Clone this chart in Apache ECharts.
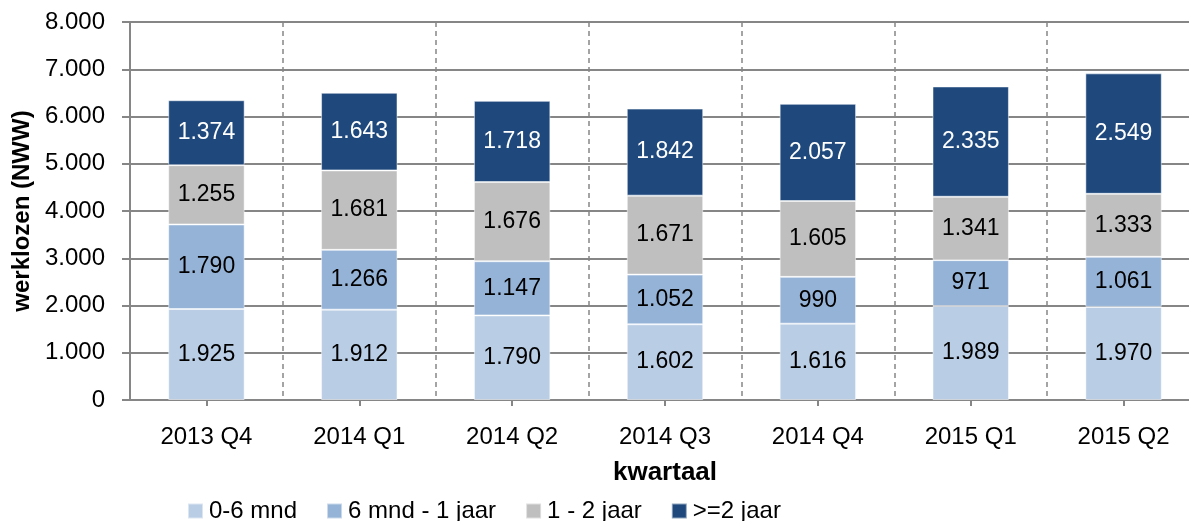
<!DOCTYPE html>
<html>
<head>
<meta charset="utf-8">
<script src="https://cdn.jsdelivr.net/npm/echarts@6/dist/echarts.min.js"></script>
<style>
  html, body { margin: 0; padding: 0; background: #fff; }
  #chart { width: 1189px; height: 521px; }
</style>
</head>
<body>
<div id="chart"></div>
<script>
  // kwartalen
  var categories = ['2013 Q4', '2014 Q1', '2014 Q2', '2014 Q3', '2014 Q4', '2015 Q1', '2015 Q2'];
  var seriesNames = ['0-6 mnd', '6 mnd - 1 jaar', '1 - 2 jaar', '>=2 jaar'];
  var mnd0_6 = [1925, 1912, 1790, 1602, 1616, 1989, 1970];
  var mnd6_jaar1 = [1790, 1266, 1147, 1052, 990, 971, 1061];
  var jaar1_2 = [1255, 1681, 1676, 1671, 1605, 1341, 1333];
  var jaar2plus = [1374, 1643, 1718, 1842, 2057, 2335, 2549];
  var colors = ['#b9cde5', '#95b3d7', '#bfbfbf', '#1f497d'];
  var labelColors = ['#000', '#000', '#000', '#fff'];

  var font = 'Liberation Sans, Arial, sans-serif';

  function fmt(v) {
    return String(v).replace(/\B(?=(\d{3})+(?!\d))/g, '.');
  }

  var chart = echarts.init(document.getElementById('chart'));
  var values = [mnd0_6, mnd6_jaar1, jaar1_2, jaar2plus];

  chart.setOption({
    animation: false,
    textStyle: { fontFamily: font },
    grid: { left: 130, right: -11, top: 22, bottom: 121, containLabel: false, outerBoundsMode: 'none' },
    legend: {
      top: 494,
      left: 182,
      itemGap: 29,
      itemWidth: 15,
      itemHeight: 15,
      icon: 'rect',
      textStyle: { fontSize: 24, color: '#000', fontFamily: font, padding: [0, 0, 0, 1] },
      data: seriesNames
    },
    xAxis: {
      type: 'category',
      data: categories,
      name: 'kwartaal',
      nameLocation: 'middle',
      nameGap: 60,
      nameTextStyle: { fontSize: 26, fontWeight: 'bold', color: '#000', fontFamily: font },
      axisLine: { lineStyle: { color: '#868686', width: 2 } },
      axisTick: { show: true, alignWithLabel: true, length: 6, lineStyle: { color: '#868686', width: 2 } },
      axisLabel: { fontSize: 24, color: '#000', margin: 25 },
      splitLine: { show: true, lineStyle: { color: '#868686', type: [5, 4], width: 1.5 } }
    },
    yAxis: {
      type: 'value',
      min: 0,
      max: 8000,
      interval: 1000,
      name: 'werklozen (NWW)',
      nameLocation: 'middle',
      nameGap: 93,
      nameTextStyle: { fontSize: 24, fontWeight: 'bold', color: '#000', fontFamily: font },
      axisLine: { show: true, lineStyle: { color: '#868686', width: 2 } },
      axisTick: { show: true, length: 8, lineStyle: { color: '#868686', width: 2 } },
      axisLabel: { fontSize: 24, color: '#000', margin: 25, formatter: fmt },
      splitLine: { show: true, lineStyle: { color: '#868686', width: 2 } }
    },
    series: values.map(function (arr, i) {
      return {
        name: seriesNames[i],
        type: 'bar',
        stack: 'totaal',
        barWidth: '50%',
        data: arr,
        itemStyle: { color: colors[i], borderColor: 'rgba(255,255,255,0.5)', borderWidth: 1 },
        label: {
          show: true,
          position: 'inside',
          fontSize: 23,
          color: labelColors[i],
          fontFamily: font,
          formatter: function (p) { return fmt(p.value); }
        }
      };
    })
  });
</script>
</body>
</html>
